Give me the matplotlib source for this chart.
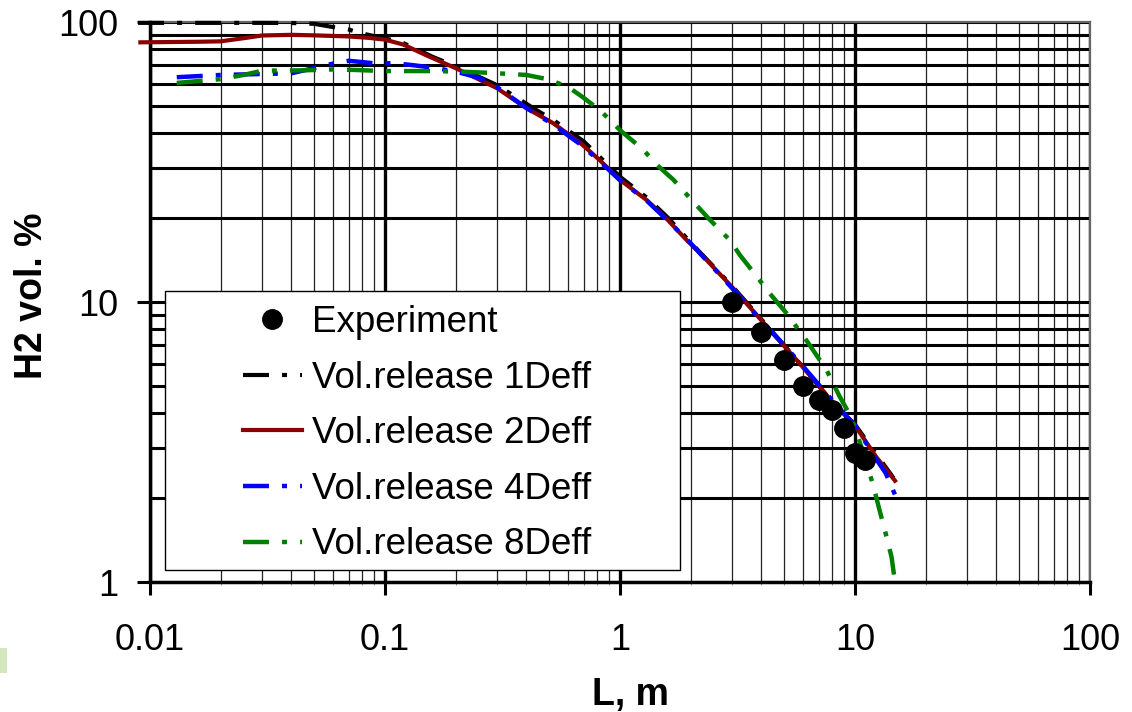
import matplotlib
matplotlib.use("Agg")
import matplotlib.pyplot as plt
from matplotlib.patches import Rectangle
from matplotlib.ticker import LogLocator, NullFormatter

plt.rcParams['font.family'] = ['Liberation Sans', 'DejaVu Sans']
plt.rcParams['lines.scale_dashes'] = False

# ---- data ----
exp_x = [3, 4, 5, 6, 7, 8, 9, 10, 11]
exp_y = [10.0, 7.8, 6.2, 5.0, 4.45, 4.1, 3.55, 2.88, 2.73]

d1_x = [0.0089, 0.02, 0.03, 0.04, 0.05, 0.058, 0.07, 0.078, 0.09, 0.1, 0.12, 0.16, 0.2,
        0.3, 0.44, 0.52, 0.7, 0.82, 1.0, 1.3, 1.6, 2.0, 3.0, 5.0, 8.0, 10, 12, 14.6]
d1_y = [99.3, 99.3, 99.3, 99.2, 98.5, 96.4, 94, 91.5, 89, 87.5, 84, 75, 69.5,
        59.5, 48.5, 44.7, 37.5, 33, 28, 23.6, 20, 16.3, 11.4, 7.0, 4.4, 3.65, 2.95, 2.35]

d2_x = [0.0091, 0.012, 0.016, 0.02, 0.025, 0.03, 0.04, 0.05, 0.07, 0.085, 0.1, 0.12, 0.15,
        0.2, 0.3, 0.4, 0.52, 0.68, 0.82, 1.0, 1.3, 1.6, 1.9, 2.2, 3.0, 4.2, 5.8, 8.1, 10,
        12.3, 14.8]
d2_y = [84.6, 84.8, 85.0, 85.3, 87.5, 89.5, 90, 89.6, 88.8, 87.8, 86.5, 83, 76,
        68.4, 58, 49.2, 43.5, 36.9, 32.1, 27.3, 23.1, 19.6, 16.8, 14.9, 11.3, 8.2, 6.05, 4.35, 3.62,
        2.8, 2.3]

d4_x = [0.013, 0.02, 0.03, 0.04, 0.05, 0.06, 0.07, 0.09, 0.11, 0.13, 0.166, 0.2, 0.25,
        0.3, 0.4, 0.52, 0.68, 0.82, 1.0, 1.3, 1.6, 2.0, 3.0, 4.2, 5.8, 8.1, 10, 12.3, 13.5, 14.8]
d4_y = [63.5, 64.7, 65.2, 65.6, 68.5, 71, 72.7, 71.2, 71.2, 70.2, 68.4, 66.5, 63.3,
        58.5, 49.3, 43, 36.5, 31.8, 27.2, 23, 19.5, 16.2, 11.2, 8.2, 6.1, 4.4, 3.62, 2.75, 2.45, 2.05]

d8_x = [0.013, 0.02, 0.025, 0.03, 0.045, 0.06, 0.075, 0.1, 0.15, 0.2, 0.27, 0.33, 0.4,
        0.49, 0.6, 0.69, 0.82, 1.0, 1.26, 1.41, 1.69, 2.05, 2.38, 2.94, 3.24, 3.69, 4.35,
        5.12, 6.34, 7.58, 8.6, 9.62, 10.3, 11.2, 12.0, 12.6, 13.4, 14.3, 14.8]
d8_y = [60.6, 62.5, 64.7, 67, 67.2, 67.7, 67.4, 66.8, 66.8, 66.6, 65.9, 65.3, 64.7,
        62.5, 58.7, 54.1, 48.5, 41.1, 34.9, 31.3, 27.3, 22.8, 19.9, 16.6, 14.7, 12.8, 10.7,
        9.1, 7.12, 5.7, 4.6, 3.89, 3.3, 2.66, 2.19, 1.86, 1.53, 1.23, 1.0]

labels = ["Experiment", "Vol.release 1Deff", "Vol.release 2Deff",
          "Vol.release 4Deff", "Vol.release 8Deff"]
xtick_vals = [0.01, 0.1, 1, 10, 100]
xtick_labels = ["0.01", "0.1", "1", "10", "100"]
ytick_vals = [1, 10, 100]
ytick_labels = ["1", "10", "100"]

# ---- figure ----
W, H = 1132, 712
fig = plt.figure(figsize=(W / 100, H / 100), dpi=100)
ax = fig.add_axes([150 / W, (H - 582) / H, 940 / W, 560 / H])
ax.set_xscale('log')
ax.set_yscale('log')
ax.set_xlim(0.01, 100)
ax.set_ylim(1, 100)

# grid
ax.xaxis.set_minor_locator(LogLocator(base=10, subs=range(2, 10)))
ax.yaxis.set_minor_locator(LogLocator(base=10, subs=range(2, 10)))
ax.xaxis.set_minor_formatter(NullFormatter())
ax.yaxis.set_minor_formatter(NullFormatter())
ax.grid(True, which='major', axis='x', color='black', lw=2.4)
ax.grid(True, which='minor', axis='x', color='#222222', lw=0.9)
ax.grid(True, which='both', axis='y', color='black', lw=2.2)
ax.set_axisbelow(True)

for side in ['left', 'bottom']:
    ax.spines[side].set_linewidth(2.5)
    ax.spines[side].set_color('black')
for side in ['top', 'right']:
    ax.spines[side].set_linewidth(1.6)
    ax.spines[side].set_color('#666666')

ax.set_xticks(xtick_vals)
ax.set_xticklabels(xtick_labels)
ax.set_yticks(ytick_vals)
ax.set_yticklabels(ytick_labels)
ax.tick_params(axis='x', which='major', direction='out', length=9.5, width=2.2,
               labelsize=26, pad=20)
ax.tick_params(axis='y', which='major', direction='out', length=9.5, width=2.2,
               labelsize=26, pad=13)
ax.tick_params(axis='x', which='minor', direction='out', length=2, width=0.8, color='#999999')
ax.tick_params(axis='y', which='minor', length=0)

# legend box (drawn above grid, below data)
ax.add_patch(Rectangle((15 / 940, 12 / 560), 515 / 940, 279 / 560, transform=ax.transAxes,
                       facecolor='white', edgecolor='black', lw=1.0, zorder=2.5))

dash = (0, (18.7, 9.4, 3.6, 9.4))
l1, = ax.plot(d1_x, d1_y, color='black', lw=3.0, ls=dash, clip_on=False, zorder=3)
l2, = ax.plot(d2_x, d2_y, color='#8B0000', lw=3.0, ls='-', clip_on=False, zorder=3.1)
l4, = ax.plot(d4_x, d4_y, color='#0000FF', lw=3.2, ls=dash, clip_on=False, zorder=3.2)
l8, = ax.plot(d8_x, d8_y, color='#008000', lw=3.2, ls=dash, clip_on=False, zorder=3.3)
pe, = ax.plot(exp_x, exp_y, 'o', color='black', ms=14, ls='none', zorder=4)

ax.legend([pe, l1, l2, l4, l8], labels, loc='upper left',
          bbox_to_anchor=(243 / W, 1 - 305 / H), bbox_transform=fig.transFigure,
          frameon=False, borderpad=0, borderaxespad=0, fontsize=26.5,
          handlelength=1.6, handletextpad=0.28, labelspacing=0.56, numpoints=1)

ax.set_xlabel('L, m', fontsize=27, fontweight='bold', va='center')
ax.xaxis.set_label_coords((630 - 150) / 940, (582 - 695) / 560)
ax.set_ylabel('H2 vol. %', fontsize=27, fontweight='bold', va='center', ha='center')
ax.yaxis.set_label_coords((31.7 - 150) / 940, (582 - 296) / 560)

# small decorative mark at the left edge of the slide
fig.patches.append(Rectangle((0, (H - 673) / H), 7 / W, 25 / H, transform=fig.transFigure,
                             facecolor='#d2e7bd', edgecolor='none'))

fig.savefig('out.png', dpi=100)
